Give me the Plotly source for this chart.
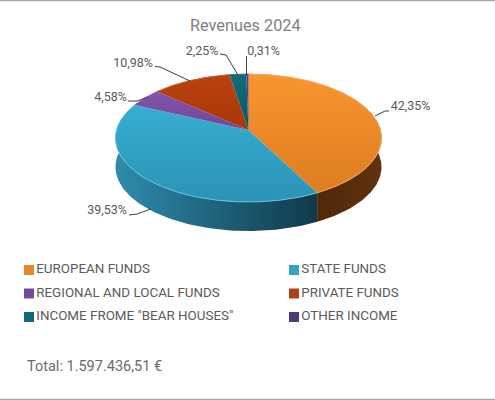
import numpy as np
import plotly.graph_objects as go

# ---- data ----
categories = ["EUROPEAN FUNDS", "STATE FUNDS", "REGIONAL AND LOCAL FUNDS",
              "PRIVATE FUNDS", 'INCOME FROME "BEAR HOUSES"', "OTHER INCOME"]
shares = [42.35, 39.53, 4.58, 10.98, 2.25, 0.31]
share_labels = ["42,35%", "39,53%", "4,58%", "10,98%", "2,25%", "0,31%"]
title_text = "Revenues 2024"
total_text = "Total: 1.597.436,51 €"

# ---- styling ----
top_grad = [("#dd7d22", "#f9952f"), ("#2b93b5", "#37aed3"), ("#6f4596", "#8355ad"),
            ("#a83709", "#bb4210"), ("#0b5a66", "#0f6b78"), ("#4a3368", "#5a3f7c")]
side_left = ["#512709", "#2f8bad", "#3b2352", "#5a1e06", "#08363e", "#2a1d3d"]
side_right = ["#5f330e", "#10394a", "#4a2c66", "#6e260a", "#0a434d", "#33234a"]
rim_col = ["#f8a457", "#62c3e0", "#9670bd", "#c9602f", "#2b8390", "#6d5590"]
legend_col = ["#e5872a", "#34a3c4", "#74499d", "#b23f12", "#10697a", "#54397a"]
TXT = "#5a5a5a"
LINE = "#404040"
CX, Y0, RX, AY, K, DEPTH = 248.5, 130.0, 132.0, 63.0, 0.125, 29.0

legend_xy = [(29, 270), (294, 270), (29, 293.5), (294, 293.5), (29, 317), (294, 317)]
label_xy = [(410.5, 107), (107, 211), (110.5, 98), (133, 63.5), (202, 52), (263.5, 52)]
leaders = [[(375, 116), (385, 111), (389, 111)],
           [(129, 215), (137, 214), (151, 209)],
           [(128, 101), (137, 101), (148, 97)],
           [(155, 66.5), (160, 67), (190, 81)],
           [(220, 54), (226, 55), (238, 75)],
           [(246.5, 56), (246.5, 75)]]


def rim(t_deg, dy=0.0):
    t = np.radians(np.asarray(t_deg, dtype=float))
    u, v = np.sin(t), np.cos(t)
    w = 1 + K * v
    return CX + RX * u / w, Y0 - AY * v / w + dy


edges = np.concatenate([[0], np.cumsum(shares)]) / sum(shares) * 360

fig = go.Figure()

# side walls (front half only)
for i in range(len(shares)):
    a, b = max(edges[i], 80), min(edges[i + 1], 280)
    if b <= a:
        continue
    ts = np.linspace(a, b, 90)
    x1, y1 = rim(ts)
    x2, y2 = rim(ts[::-1], DEPTH)
    fig.add_trace(go.Scatter(
        x=np.r_[x1, x2], y=np.r_[y1, y2], mode="lines", fill="toself",
        line=dict(width=0), hoverinfo="skip", showlegend=False,
        fillgradient=dict(type="horizontal",
                          colorscale=[[0, side_left[i]], [1, side_right[i]]])))

# top faces
for i in range(len(shares)):
    n = max(4, int((edges[i + 1] - edges[i]) * 2))
    ts = np.linspace(edges[i], edges[i + 1], n)
    x, y = rim(ts)
    fig.add_trace(go.Scatter(
        x=np.r_[CX, x, CX], y=np.r_[Y0, y, Y0], mode="lines", fill="toself",
        line=dict(width=0), name=categories[i], hoverinfo="name", showlegend=False,
        fillgradient=dict(type="vertical",
                          colorscale=[[0, top_grad[i][0]], [1, top_grad[i][1]]])))
    fig.add_trace(go.Scatter(x=x, y=y, mode="lines", hoverinfo="skip", showlegend=False,
                             line=dict(color=rim_col[i], width=1)))

# leader lines
for pts in leaders:
    fig.add_trace(go.Scatter(x=[p[0] for p in pts], y=[p[1] for p in pts], mode="lines",
                             line=dict(color=LINE, width=1), hoverinfo="skip", showlegend=False))

# value labels
fig.add_trace(go.Scatter(x=[p[0] for p in label_xy], y=[p[1] for p in label_xy], mode="text",
                         text=share_labels, textposition="middle center",
                         textfont=dict(family="Roboto", size=12.5, color=TXT),
                         hoverinfo="skip", showlegend=False))

# legend
for i, c in enumerate(categories):
    fig.add_trace(go.Scatter(
        x=[legend_xy[i][0]], y=[legend_xy[i][1]], mode="markers+text", text=[c],
        textposition="middle right",
        textfont=dict(family="Roboto", size=13.4, color=TXT),
        marker=dict(symbol="square", size=10, color=legend_col[i]),
        hoverinfo="skip", showlegend=False))

fig.add_annotation(x=245.5, y=25, text=title_text, showarrow=False,
                   font=dict(family="Roboto", size=16.3, color="#808080"))
fig.add_annotation(x=27, y=366, xanchor="left", text=total_text, showarrow=False, xshift=-2,
                   font=dict(family="Roboto", size=14.5, color="#6a6a6a"))

for yy in (0.5, 399.5):
    fig.add_shape(type="line", x0=0, x1=495, y0=yy, y1=yy,
                  line=dict(color="#a8a8a8", width=1.5))

fig.update_layout(width=495, height=400, margin=dict(l=0, r=0, t=0, b=0),
                  paper_bgcolor="white", plot_bgcolor="white", showlegend=False,
                  xaxis=dict(range=[0, 495], visible=False, fixedrange=True),
                  yaxis=dict(range=[400, 0], visible=False, fixedrange=True))
fig.write_html("out.html", config={"displayModeBar": False},
               post_script="document.body.style.margin='0';document.body.style.overflow='hidden';")
